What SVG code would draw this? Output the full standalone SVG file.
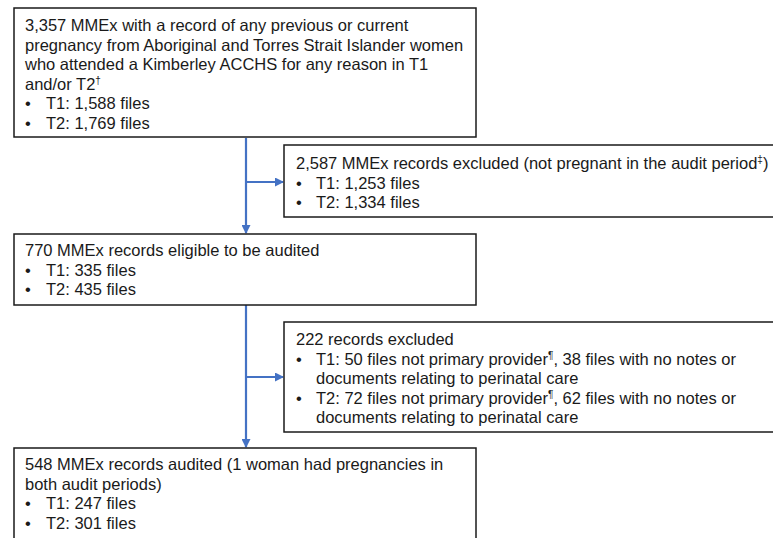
<svg xmlns="http://www.w3.org/2000/svg" width="773" height="538" viewBox="0 0 773 538">
<defs>
<marker id="ah" markerWidth="9" markerHeight="9" refX="8" refY="4.5" orient="auto" markerUnits="userSpaceOnUse">
<path d="M0,0 L9,4.5 L0,9 Z" fill="#4472C4"/>
</marker>
<style>
.box{fill:#fff;stroke:#1a1a1a;stroke-width:1.5}
.t{font-family:"Liberation Sans",Arial,sans-serif;font-size:16.5px;fill:#1a1a1a}
.c{fill:none;stroke:#4472C4;stroke-width:2.2}
</style>
</defs>
<rect width="773" height="538" fill="#fff"/>
<g id="connectors">
<line class="c" x1="246" y1="138" x2="246" y2="233" marker-end="url(#ah)"/>
<line class="c" x1="246" y1="182" x2="283" y2="182" marker-end="url(#ah)"/>
<line class="c" x1="246" y1="305" x2="246" y2="447" marker-end="url(#ah)"/>
<line class="c" x1="246" y1="377" x2="283" y2="377" marker-end="url(#ah)"/>
</g>
<g id="n1">
<rect class="box" x="14" y="8" width="462" height="129"/>
<text class="t" x="25" y="31">3,357 MMEx with a record of any previous or current</text>
<text class="t" x="25" y="50.6">pregnancy from Aboriginal and Torres Strait Islander women</text>
<text class="t" x="25" y="70.2">who attended a Kimberley ACCHS for any reason in T1</text>
<text class="t" x="25" y="89.8">and/or T2<tspan font-size="10" dy="-6">†</tspan></text>
<text class="t" x="25" y="109.4">•</text><text class="t" x="46" y="109.4">T1: 1,588 files</text>
<text class="t" x="25" y="129">•</text><text class="t" x="46" y="129">T2: 1,769 files</text>
</g>
<g id="n2">
<rect class="box" x="284" y="145" width="500" height="72"/>
<text class="t" x="296" y="169">2,587 MMEx records excluded (not pregnant in the audit period<tspan font-size="10" dy="-6">‡</tspan><tspan dy="6">)</tspan></text>
<text class="t" x="296" y="188.5">•</text><text class="t" x="316" y="188.5">T1: 1,253 files</text>
<text class="t" x="296" y="208">•</text><text class="t" x="316" y="208">T2: 1,334 files</text>
</g>
<g id="n3">
<rect class="box" x="14" y="234" width="462" height="71"/>
<text class="t" x="25" y="256">770 MMEx records eligible to be audited</text>
<text class="t" x="25" y="275.5">•</text><text class="t" x="46" y="275.5">T1: 335 files</text>
<text class="t" x="25" y="295">•</text><text class="t" x="46" y="295">T2: 435 files</text>
</g>
<g id="n4">
<rect class="box" x="284" y="322" width="500" height="110"/>
<text class="t" x="296" y="345">222 records excluded</text>
<text class="t" x="296" y="364.5">•</text><text class="t" x="316" y="364.5">T1: 50 files not primary provider<tspan font-size="10" dy="-6">¶</tspan><tspan dy="6">, 38 files with no notes or</tspan></text>
<text class="t" x="316" y="384">documents relating to perinatal care</text>
<text class="t" x="296" y="403.5">•</text><text class="t" x="316" y="403.5">T2: 72 files not primary provider<tspan font-size="10" dy="-6">¶</tspan><tspan dy="6">, 62 files with no notes or</tspan></text>
<text class="t" x="316" y="423">documents relating to perinatal care</text>
</g>
<g id="n5">
<rect class="box" x="14" y="448" width="462" height="100"/>
<text class="t" x="25" y="470">548 MMEx records audited (1 woman had pregnancies in</text>
<text class="t" x="25" y="489.5">both audit periods)</text>
<text class="t" x="25" y="509">•</text><text class="t" x="46" y="509">T1: 247 files</text>
<text class="t" x="25" y="528.5">•</text><text class="t" x="46" y="528.5">T2: 301 files</text>
</g>
</svg>
